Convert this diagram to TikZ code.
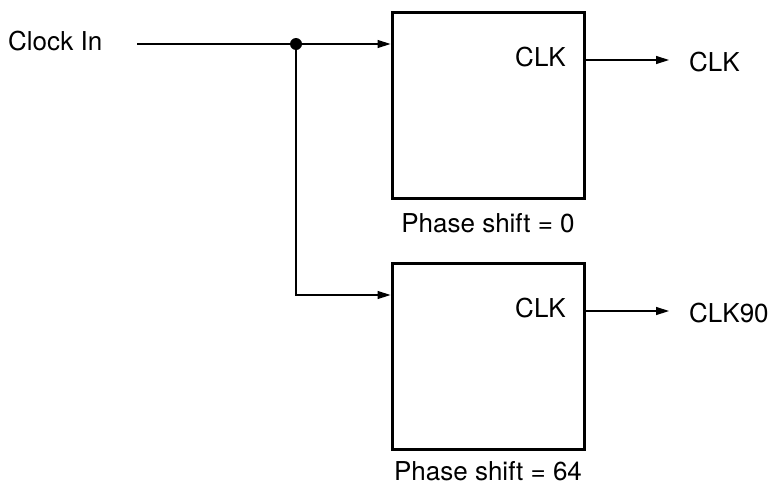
\documentclass[tikz,border=0pt]{standalone}
\usepackage{fontspec}
\setmainfont{TeX Gyre Heros}
\usetikzlibrary{arrows.meta}
\begin{document}
\begin{tikzpicture}[x=1pt,y=-1pt,
  font=\fontsize{26}{30}\selectfont,
  blockbox/.style={draw=black, line width=3pt, rectangle, inner sep=0pt,
    minimum width=192pt, minimum height=186pt},
  wire/.style={draw=black, line width=1.4pt},
  sig/.style={wire, -{Triangle[length=13pt,width=8pt]}},
  lbl/.style={inner sep=0pt, anchor=base west}]
\useasboundingbox (0,0) rectangle (771,485);
% blocks
\node[blockbox] (b1) at (488,105) {};
\node[blockbox] (b2) at (488,356) {};
% labels inside/under blocks
\node[inner sep=0pt, anchor=base east] (c1) at (566,66) {CLK};
\node[inner sep=0pt, anchor=base east] (c2) at (566,317) {CLK};
\node[inner sep=0pt, anchor=base] (p1) at (488,232) {Phase shift = 0};
\node[inner sep=0pt, anchor=base] (p2) at (488,480) {Phase shift = 64};
% input
\node[lbl] (clkin) at (8,50) {Clock In};
\coordinate (inL) at (137,44);
\node[circle, fill=black, inner sep=0pt, minimum size=12pt] (dot) at (296,44) {};
\coordinate (in1) at (390.5,44);
\coordinate (in2) at (390.5,295);
\draw[wire] (inL) -- (dot);
\draw[sig] (dot) -- (in1);
\draw[sig] (dot) |- (in2);
% outputs
\coordinate (o1s) at (585.5,60);
\coordinate (o1) at (669,60);
\coordinate (o2s) at (585.5,311);
\coordinate (o2) at (669,311);
\draw[sig] (o1s) -- (o1);
\draw[sig] (o2s) -- (o2);
\node[lbl] (out1) at (689,71) {CLK};
\node[lbl] (out2) at (689,322) {CLK90};
\end{tikzpicture}
\end{document}
